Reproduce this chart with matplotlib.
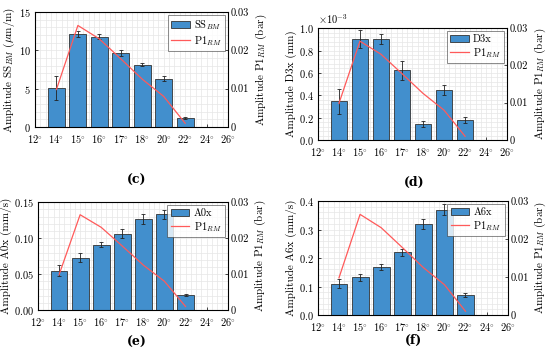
import matplotlib
matplotlib.use("Agg")
import matplotlib.pyplot as plt
from matplotlib.ticker import MultipleLocator
import numpy as np

plt.rcParams['font.family'] = ['serif']
plt.rcParams['font.serif'] = ['cmr10', 'DejaVu Serif']
plt.rcParams['mathtext.fontset'] = 'cm'
plt.rcParams['axes.formatter.use_mathtext'] = True
plt.rcParams['axes.unicode_minus'] = False

# categories
angles = ['12°', '14°', '15°', '16°', '17°', '18°', '20°', '22°', '24°', '26°']
bar_angles = ['14°', '15°', '16°', '17°', '18°', '20°', '22°', '24°']

# P1_RM pressure amplitude (bar), same in every panel
p1_angles = ['14°', '15°', '16°', '17°', '18°', '20°', '22°']
p1_rm = [0.0098, 0.0265, 0.0230, 0.0178, 0.0125, 0.0080, 0.0010]

# (c) SS_BM
ss_bm = [5.1, 12.1, 11.8, 9.7, 8.1, 6.3, 1.2, 0.0]
ss_err = [1.6, 0.4, 0.35, 0.4, 0.2, 0.35, 0.1, 0.0]
# (d) D3x (x1e-3 mm)
d3x = [0.345, 0.90, 0.90, 0.625, 0.145, 0.445, 0.18, 0.0]
d3x_err = [0.115, 0.08, 0.045, 0.085, 0.025, 0.045, 0.03, 0.0]
# (e) A0x
a0x = [0.055, 0.073, 0.091, 0.106, 0.126, 0.133, 0.021, 0.0]
a0x_err = [0.007, 0.006, 0.004, 0.006, 0.007, 0.006, 0.002, 0.0]
# (f) A6x
a6x = [0.110, 0.132, 0.168, 0.221, 0.319, 0.370, 0.070, 0.0]
a6x_err = [0.015, 0.013, 0.010, 0.012, 0.018, 0.018, 0.007, 0.0]

bar_color = '#428fcd'
line_color = '#ff5a5a'

fig = plt.figure(figsize=(5.5, 3.54), dpi=100)


def deg(s):
    # cmr10 has no degree sign, draw it through mathtext
    return s.replace('°', r'$^{\circ}$')


def panel(rect, vals, errs, ymax, ystep, ylabel, leg, letter, letter_xy, sci=False):
    ax = fig.add_axes(rect)
    pos = {a: i for i, a in enumerate(angles)}
    bx = [pos[a] for a in bar_angles]
    ax.bar(bx, vals, width=0.8, color=bar_color, edgecolor='#333333', linewidth=0.6,
           label=leg, zorder=2)
    ax.errorbar(bx, vals, yerr=errs, fmt='none', ecolor='#222222', elinewidth=0.6,
                capsize=1.5, capthick=0.6, zorder=3)
    ax.set_xlim(0, len(angles) - 1)
    ax.set_xticks(range(len(angles)))
    ax.set_xticklabels([deg(a) for a in angles])
    ax.xaxis.set_minor_locator(MultipleLocator(0.25))
    ax.set_ylim(0, ymax)
    ax.yaxis.set_major_locator(MultipleLocator(ystep))
    ax.yaxis.set_minor_locator(MultipleLocator(ystep / 5))
    ax.grid(True, which='both', color='#e6e6e6', linewidth=0.5, zorder=0)
    ax.set_axisbelow(True)
    ax.tick_params(labelsize=7.5, length=2, width=0.5, direction='in', pad=3)
    ax.tick_params(axis='x', pad=4.5)
    ax.tick_params(which='minor', length=0)
    ax.set_ylabel(ylabel, fontsize=8, labelpad=1)
    for s in ax.spines.values():
        s.set_linewidth(0.5)
    if sci:
        ax.text(0.0, 1.02, r'$\times10^{-3}$', transform=ax.transAxes, fontsize=7.5,
                ha='left', va='bottom')
    ax2 = ax.twinx()
    px = [pos[a] for a in p1_angles]
    ln, = ax2.plot(px, p1_rm, color=line_color, linewidth=0.9, label=r'P1$_{RM}$')
    ax2.set_ylim(0, 0.03)
    ax2.set_yticks([0, 0.01, 0.02, 0.03])
    ax2.set_yticklabels(['0', '0.01', '0.02', '0.03'])
    ax2.tick_params(labelsize=7.5, length=2, width=0.5, direction='in', pad=2)
    ax2.set_ylabel(r'Amplitude P1$_{RM}$ (bar)', fontsize=8, labelpad=3)
    h1, l1 = ax.get_legend_handles_labels()
    lg = ax2.legend(h1 + [ln], l1 + [ln.get_label()], loc='upper right', fontsize=7.5,
                    frameon=True, fancybox=False, edgecolor='#333333', borderpad=0.3,
                    handlelength=1.8, handletextpad=0.4, labelspacing=0.2,
                    borderaxespad=0.3)
    lg.get_frame().set_linewidth(0.5)
    fig.text(letter_xy[0] / 550, 1 - letter_xy[1] / 354, letter, fontsize=9,
             fontweight='bold', family='DejaVu Serif', ha='center', va='center')
    return ax


panel([0.0636, 0.641, 0.351, 0.325], ss_bm, ss_err, 15, 5,
      r'Amplitude SS$_{BM}$ ($\mathrm{\mu}$m/m)', r'SS$_{BM}$', '(c)', (137, 180))
panel([0.578, 0.6045, 0.344, 0.316], d3x, d3x_err, 1.0, 0.2,
      'Amplitude D3x (mm)', 'D3x', '(d)', (414, 182), sci=True)
panel([0.069, 0.124, 0.345, 0.305], a0x, a0x_err, 0.15, 0.05,
      'Amplitude A0x (mm/s)', 'A0x', '(e)', (137, 342))
panel([0.578, 0.110, 0.345, 0.322], a6x, a6x_err, 0.4, 0.1,
      'Amplitude A6x (mm/s)', 'A6x', '(f)', (414, 340))

fig.savefig('out.png', dpi=100)
